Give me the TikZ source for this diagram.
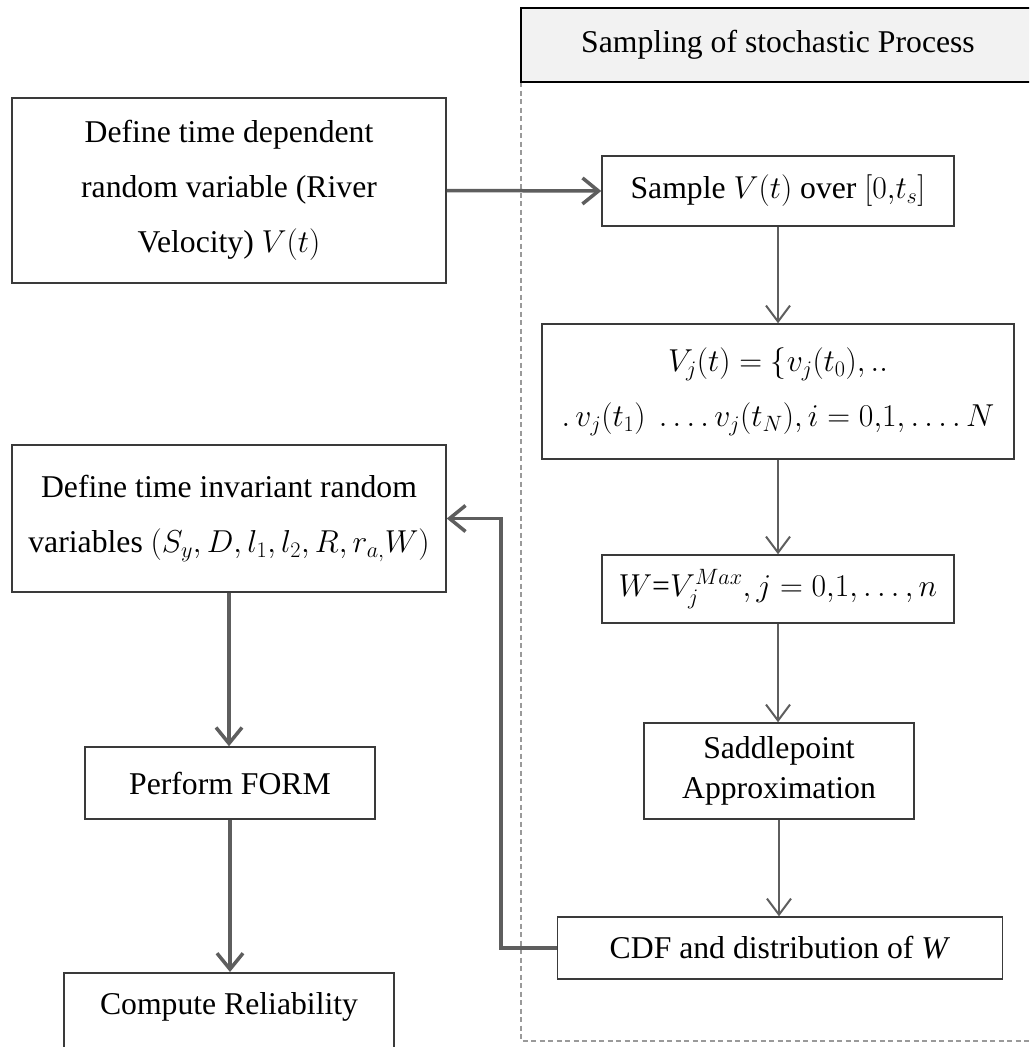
\RequirePackage{fix-cm}
\documentclass[tikz,border=0pt]{standalone}
\usepackage{fontspec}
\setmainfont{Liberation Serif}
\usetikzlibrary{arrows.meta}
\definecolor{boxline}{HTML}{3A3A3A}
\definecolor{arrowgray}{HTML}{5E5E5E}
\definecolor{dashgray}{HTML}{9A9A9A}
\definecolor{headfill}{HTML}{F2F2F2}
\begin{document}
\begin{tikzpicture}[x=1pt,y=-1pt,
  box/.style={draw=boxline, line width=1.5pt, fill=white, align=center, inner sep=0pt,
    font=\fontsize{31.7}{55}\selectfont},
  thinarrow/.style={draw=arrowgray, line width=2pt, -{Straight Barb[length=16pt,width=24pt]}},
  thickarrow/.style={draw=arrowgray, line width=3.5pt, -{Straight Barb[length=16pt,width=26pt]}},
  groupline/.style={draw=dashgray, line width=1.3pt, dash pattern=on 5pt off 3.5pt}]
\useasboundingbox (0,0) rectangle (1029,1047);
\clip (0,0) rectangle (1029,1047);
% group frame
\draw[groupline] (521,82) -- (521,1041) -- (1040,1041);
\node[draw=black, line width=2.5pt, fill=headfill, minimum width=514pt, minimum height=74pt,
  inner sep=0pt, font=\fontsize{31.7}{38}\selectfont] (head) at (778,45) {Sampling of stochastic Process};
% nodes
\node[box, minimum width=434pt, minimum height=185pt] (dep) at (229,190.5)
  {Define time dependent\\ random variable (River\\ Velocity) $V(t)$};
\node[box, minimum width=352pt, minimum height=70pt] (sample) at (778,191)
  {Sample $V(t)$ over $[0{,}t_s]$};
\node[box, minimum width=472pt, minimum height=135pt] (vj) at (778,391.5)
  {$V_j(t)=\{v_j(t_0),..$\\ $.\,v_j(t_1)\ \ldots.\,v_j(t_N), i=0{,}1, \ldots.\,N$};
\node[box, minimum width=352pt, minimum height=68pt] (wmax) at (778,589)
  {$W$=$V_j^{Max}, j=0{,}1,\ldots,n$};
\node[box, minimum width=270pt, minimum height=96pt, font=\fontsize{31.7}{40}\selectfont] (saddle) at (779,771)
  {Saddlepoint\\ Approximation};
\node[box, minimum width=445pt, minimum height=62pt] (cdf) at (780,948)
  {CDF and distribution of \textit{W}};
\node[box, minimum width=434pt, minimum height=147pt] (inv) at (229,518.5)
  {Define time invariant random\\ variables $(S_y, D, l_1, l_2, R, r_{a,}W)$};
\node[box, minimum width=290pt, minimum height=72pt] (form) at (230,783)
  {Perform FORM};
\node[box, anchor=north, minimum width=330pt, text height=42pt, text depth=80pt] (comp) at (229,972)
  {Compute Reliability};
% connectors
\draw[thickarrow] (dep.east) -- (sample.west);
\draw[thinarrow] (sample.south) -- (vj.north);
\draw[thinarrow] (vj.south) -- (wmax.north);
\draw[thinarrow] (wmax.south) -- (wmax.south |- saddle.north);
\draw[thinarrow] (saddle.south) -- (saddle.south |- cdf.north);
\draw[thickarrow] (cdf.west) -- ++(-56,0) |- (inv.east);
\draw[thickarrow] (inv.south) -- (inv.south |- form.north);
\draw[thickarrow] (form.south) -- (form.south |- comp.north);
\end{tikzpicture}
\end{document}
